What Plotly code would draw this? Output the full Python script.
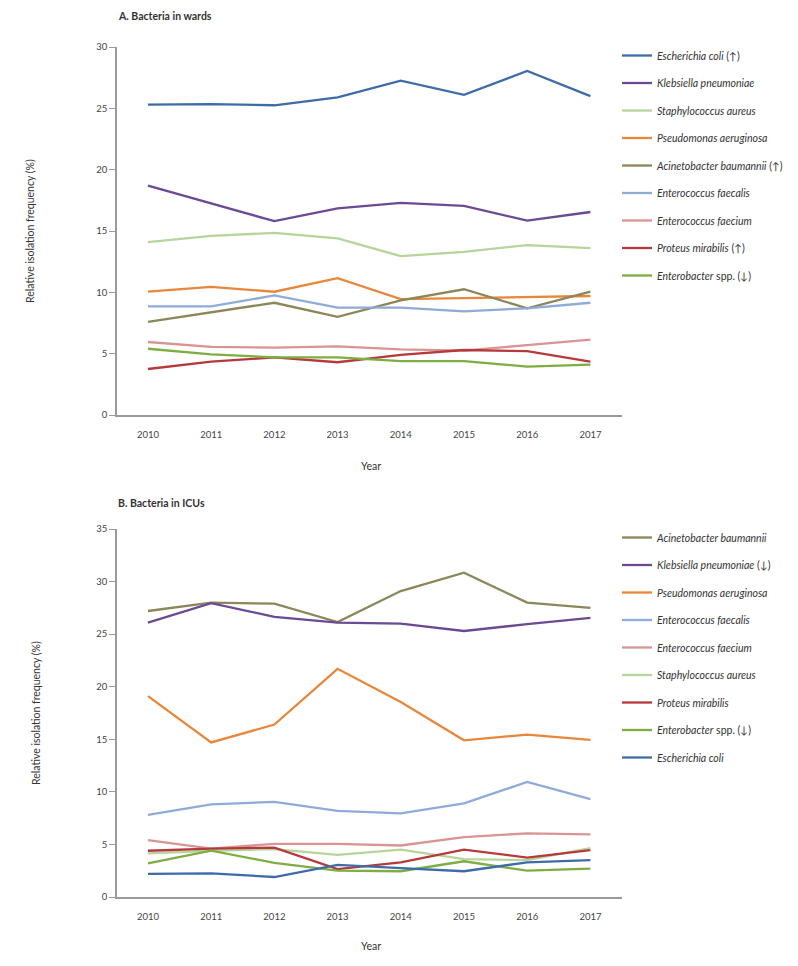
import plotly.graph_objects as go

years = [2010, 2011, 2012, 2013, 2014, 2015, 2016, 2017]

# Panel A: bacteria in wards
wards_names = [
    "<i>Escherichia coli</i> (↑)",
    "<i>Klebsiella pneumoniae</i>",
    "<i>Staphylococcus aureus</i>",
    "<i>Pseudomonas aeruginosa</i>",
    "<i>Acinetobacter baumannii</i> (↑)",
    "<i>Enterococcus faecalis</i>",
    "<i>Enterococcus faecium</i>",
    "<i>Proteus mirabilis</i> (↑)",
    "<i>Enterobacter</i> spp. (↓)",
]
wards_ecoli = [25.3, 25.35, 25.25, 25.9, 27.25, 26.1, 28.05, 26.0]
wards_kpneu = [18.7, 17.25, 15.8, 16.85, 17.3, 17.05, 15.85, 16.55]
wards_saur = [14.1, 14.6, 14.85, 14.4, 12.95, 13.3, 13.85, 13.6]
wards_paer = [10.05, 10.45, 10.05, 11.15, 9.45, 9.55, 9.65, 9.7]
wards_abau = [7.6, 8.4, 9.15, 8.0, 9.35, 10.25, 8.7, 10.05]
wards_efcl = [8.85, 8.85, 9.75, 8.75, 8.75, 8.45, 8.7, 9.15]
wards_efcm = [5.95, 5.55, 5.5, 5.6, 5.35, 5.25, 5.7, 6.15]
wards_pmir = [3.75, 4.35, 4.7, 4.3, 4.9, 5.3, 5.2, 4.35]
wards_ent = [5.4, 4.95, 4.7, 4.7, 4.4, 4.4, 3.95, 4.1]
wards_values = [wards_ecoli, wards_kpneu, wards_saur, wards_paer, wards_abau,
                wards_efcl, wards_efcm, wards_pmir, wards_ent]
wards_colors = ["#3e6ca8", "#6b4a94", "#b6d49b", "#e8873a", "#8b8759",
                "#8fabd8", "#d99593", "#b63a3c", "#7ead42"]

# Panel B: bacteria in ICUs
icu_names = [
    "<i>Acinetobacter baumannii</i>",
    "<i>Klebsiella pneumoniae</i> (↓)",
    "<i>Pseudomonas aeruginosa</i>",
    "<i>Enterococcus faecalis</i>",
    "<i>Enterococcus faecium</i>",
    "<i>Staphylococcus aureus</i>",
    "<i>Proteus mirabilis</i>",
    "<i>Enterobacter</i> spp. (↓)",
    "<i>Escherichia coli</i>",
]
icu_abau = [27.2, 28.0, 27.9, 26.15, 29.1, 30.85, 28.0, 27.5]
icu_kpneu = [26.1, 27.95, 26.65, 26.1, 26.0, 25.3, 25.95, 26.55]
icu_paer = [19.1, 14.7, 16.4, 21.7, 18.55, 14.9, 15.45, 14.95]
icu_efcl = [7.8, 8.8, 9.05, 8.2, 7.95, 8.9, 10.95, 9.3]
icu_efcm = [5.4, 4.6, 5.05, 5.05, 4.9, 5.7, 6.05, 5.95]
icu_saur = [4.15, 4.4, 4.55, 4.0, 4.5, 3.6, 3.5, 4.65]
icu_pmir = [4.4, 4.6, 4.7, 2.65, 3.3, 4.5, 3.75, 4.45]
icu_ent = [3.2, 4.4, 3.25, 2.5, 2.45, 3.4, 2.5, 2.7]
icu_ecoli = [2.2, 2.25, 1.9, 3.05, 2.75, 2.45, 3.3, 3.5]
icu_values = [icu_abau, icu_kpneu, icu_paer, icu_efcl, icu_efcm,
              icu_saur, icu_pmir, icu_ent, icu_ecoli]
icu_colors = ["#8b8759", "#6b4a94", "#e8873a", "#8fabd8", "#d99593",
              "#b6d49b", "#b63a3c", "#7ead42", "#3e6ca8"]

FONT = "Lato, Open Sans, sans-serif"
TXT = "#333333"
AX = "#9a9a9a"

fig = go.Figure()
for i, (name, vals, col) in enumerate(zip(wards_names, wards_values, wards_colors)):
    fig.add_trace(go.Scatter(x=years, y=vals, name=name, mode="lines",
                             line=dict(color=col, width=2.3),
                             xaxis="x", yaxis="y", legend="legend",
                             legendgroup="a%d" % i))
for i, (name, vals, col) in enumerate(zip(icu_names, icu_values, icu_colors)):
    fig.add_trace(go.Scatter(x=years, y=vals, name=name, mode="lines",
                             line=dict(color=col, width=2.3),
                             xaxis="x2", yaxis="y2", legend="legend2",
                             legendgroup="b%d" % i))

W, H = 798, 966
OFF = 8  # page body margin offset
def px_x(p):
    return (p - OFF) / W
def px_y(p):
    return 1 - (p - OFF) / H

xdom = [px_x(117), px_x(622)]
ydomA = [px_y(415), px_y(47)]
ydomB = [px_y(897), px_y(529)]

def xaxis(anchor):
    return dict(domain=xdom, anchor=anchor, range=[2009.51, 2017.5],
                tickvals=years, ticktext=[str(y) for y in years],
                showline=True, linecolor=AX, linewidth=1.5,
                ticks="outside", ticklen=10, tickcolor="rgba(0,0,0,0)",
                showgrid=False, zeroline=False, automargin=False,
                tickfont=dict(family=FONT, size=9.5, color="#444"))

def yaxis(anchor, dom, rng):
    return dict(domain=dom, anchor=anchor, range=rng, dtick=5,
                showline=True, linecolor=AX, linewidth=1.5,
                ticks="outside", ticklen=6, tickcolor=AX, tickwidth=1,
                showgrid=False, zeroline=False, automargin=False,
                tickfont=dict(family=FONT, size=9.5, color="#444"))

legend_common = dict(xref="container", yref="container",
                     xanchor="left", yanchor="top", bgcolor="rgba(0,0,0,0)",
                     font=dict(family=FONT, size=10.5, color=TXT),
                     traceorder="grouped", tracegroupgap=8.5,
                     itemwidth=30)

def label(text, x, y, size=10, angle=0, bold=False):
    return dict(text=("<b>%s</b>" % text) if bold else text,
                x=px_x(x), y=px_y(y), xref="paper", yref="paper",
                xanchor="center" if not bold else "left", yanchor="middle",
                textangle=angle, showarrow=False,
                font=dict(family=FONT, size=size, color=TXT))

fig.update_layout(
    width=W, height=H,
    margin=dict(l=0, r=0, t=0, b=0, autoexpand=False),
    paper_bgcolor="white", plot_bgcolor="white",
    showlegend=True,
    xaxis=xaxis("y"),
    yaxis=yaxis("x", ydomA, [0, 30]),
    xaxis2=xaxis("y2"),
    yaxis2=yaxis("x2", ydomB, [0, 35]),
    legend=dict(x=px_x(617), y=px_y(41), **legend_common),
    legend2=dict(x=px_x(617), y=px_y(523), **legend_common),
    annotations=[
        label("A. Bacteria in wards", 116, 16, size=10.5, bold=True),
        label("B. Bacteria in ICUs", 116, 503, size=10.5, bold=True),
        label("Relative isolation frequency (%)", 30, 231, size=10.5, angle=-90),
        label("Relative isolation frequency (%)", 36, 713, size=10.5, angle=-90),
        label("Year", 371, 466, size=10.5),
        label("Year", 371, 946, size=10.5),
    ],
)

fig.write_html("out.html")
